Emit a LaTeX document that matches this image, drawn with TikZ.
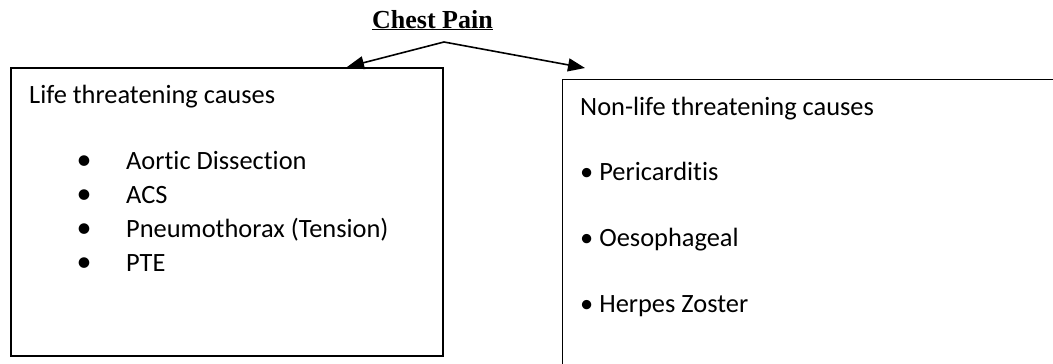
\documentclass[tikz,border=0pt]{standalone}
\usepackage{fontspec}
\setmainfont{Carlito}[Ligatures=NoCommon]
\newfontfamily\titlefont{Liberation Serif}
\usetikzlibrary{arrows.meta,positioning}

\begin{document}
\begin{tikzpicture}[
  x=1pt, y=-1pt,
  causebox/.style={rectangle, draw=black, line width=1.5pt, anchor=north west, inner sep=0pt},
  cause text/.style={anchor=base west, inner sep=0pt, font=\fontsize{26.4}{30}\selectfont},
  list dot/.style={anchor=base, inner sep=0pt, font=\fontsize{30}{30}\selectfont},
  branch/.style={line width=1.6pt, -{Triangle[length=17pt,width=13pt]}}
]
  \useasboundingbox (0,0) rectangle (1053,364);
  \node[anchor=base, inner sep=0pt, font=\titlefont\bfseries\fontsize{26}{30}\selectfont] (title) at (432.5,28) {\underline{Chest Pain}};
  \node[causebox, minimum width=432pt, minimum height=288pt] (life) at (10,67) {};
  \node[causebox, minimum width=600pt, minimum height=400pt] (nonlife) at (561.5,78.5) {};
  % life threatening causes
  \node[cause text] (lifehead) at (29,103) {Life threatening causes};
  \node[list dot] (d1) at (84,169) {\textbullet};
  \node[list dot] (d2) at (84,203) {\textbullet};
  \node[list dot] (d3) at (84,237) {\textbullet};
  \node[list dot] (d4) at (84,271) {\textbullet};
  \node[cause text] (aortic) at (126,169) {Aortic Dissection};
  \node[cause text] (acs)    at (126,203) {ACS};
  \node[cause text] (pneumo) at (126,237) {Pneumothorax (Tension)};
  \node[cause text] (pte)    at (126,271) {PTE};
  % non-life threatening causes
  \node[cause text] (nonhead) at (580,115) {Non-life threatening causes};
  \node[cause text] (peri)  at (580,180) {\textbullet\ Pericarditis};
  \node[cause text] (oeso)  at (580,246) {\textbullet\ Oesophageal};
  \node[cause text] (zoster) at (580,312) {\textbullet\ Herpes Zoster};
  % branches from the title
  \coordinate (fork) at (444,42);
  \coordinate (lifetip) at (347,67);
  \coordinate (nontip) at (585,68);
  \draw[branch] (fork) -- (lifetip);
  \draw[branch] (fork) -- (nontip);
\end{tikzpicture}
\end{document}
